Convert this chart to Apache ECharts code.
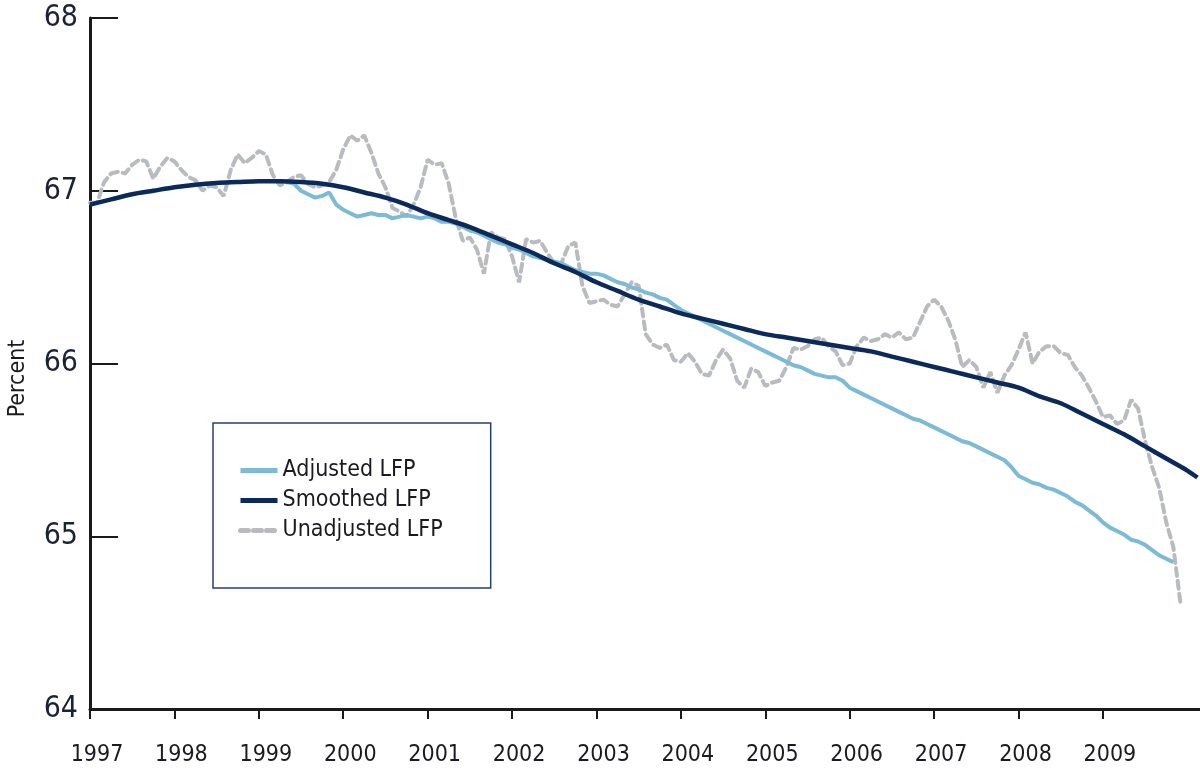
<!DOCTYPE html>
<html>
<head>
<meta charset="utf-8">
<script src="https://cdn.jsdelivr.net/npm/echarts@6/dist/echarts.min.js"></script>
<style>
html,body{margin:0;padding:0;background:#fff;}
#c{width:1200px;height:776px;}
</style>
</head>
<body>
<div id="c"></div>
<script>
// x tick labels (years)
const yearTicks = [1997,1998,1999,2000,2001,2002,2003,2004,2005,2006,2007,2008,2009];
// monthly series start Jan 1997
const startYear = 1997;
const unadjusted = [
66.93,66.93,67.05,67.10,67.11,67.10,67.15,67.18,67.17,67.07,67.14,67.19,
67.17,67.12,67.08,67.06,67.00,67.03,67.02,66.97,67.12,67.21,67.16,67.19,
67.23,67.21,67.09,67.03,67.05,67.08,67.09,67.04,67.02,67.03,67.05,67.12,
67.24,67.32,67.29,67.32,67.22,67.10,67.02,66.90,66.88,66.85,66.92,67.02,
67.18,67.15,67.16,67.04,66.84,66.71,66.73,66.66,66.52,66.76,66.73,66.72,
66.62,66.47,66.72,66.70,66.71,66.64,66.58,66.58,66.68,66.70,66.45,66.35,
66.36,66.37,66.34,66.33,66.40,66.47,66.45,66.17,66.11,66.09,66.11,66.02,
66.01,66.06,66.01,65.94,65.93,66.02,66.08,66.03,65.90,65.86,65.97,65.95,
65.87,65.89,65.90,65.98,66.09,66.08,66.10,66.14,66.15,66.10,66.07,65.99,
66.00,66.10,66.15,66.13,66.14,66.17,66.15,66.18,66.14,66.15,66.24,66.33,
66.37,66.33,66.25,66.14,65.98,66.02,65.98,65.86,65.95,65.83,65.93,65.99,
66.08,66.18,66.00,66.07,66.10,66.10,66.06,66.05,65.98,65.93,65.86,65.78,
65.69,65.70,65.65,65.67,65.79,65.74,65.55,65.40,65.28,65.08,64.94,64.62
];
// adjusted series starts at month index 28 (May 1999)
const adjustedStartIndex = 28;
const adjusted = [
67.05,67.04,67.00,66.98,66.96,66.97,66.99,66.92,66.89,66.87,66.85,66.86,
66.87,66.86,66.86,66.84,66.85,66.86,66.85,66.84,66.85,66.84,66.82,
66.82,66.81,66.79,66.77,66.76,66.74,66.72,66.70,66.69,
66.67,66.66,66.64,66.62,66.61,66.60,66.59,66.58,66.56,66.54,66.53,66.52,
66.52,66.51,66.49,66.47,66.46,66.44,66.43,66.41,66.40,66.38,66.37,66.34,
66.31,66.29,66.27,66.25,66.23,66.21,66.19,66.17,66.15,66.13,66.11,66.09,
66.07,66.05,66.03,66.01,65.99,65.98,65.96,65.94,65.93,65.92,65.92,65.90,
65.86,65.84,65.82,65.80,65.78,65.76,65.74,65.72,65.70,65.68,65.67,65.65,
65.63,65.61,65.59,65.57,65.55,65.54,65.52,65.50,65.48,65.46,65.44,65.40,
65.35,65.33,65.31,65.30,65.28,65.27,65.25,65.23,65.20,65.18,65.15,65.12,
65.08,65.05,65.03,65.01,64.98,64.97,64.95,64.92,64.89,64.87,64.85
];
// smoothed series (quarterly readings)
const smoothedX = [
1997.0,1997.25,1997.5,1997.75,1998.0,1998.25,1998.5,1998.75,1999.0,1999.25,1999.5,1999.75,
2000.0,2000.25,2000.5,2000.75,2001.0,2001.25,2001.5,2001.75,2002.0,2002.25,2002.5,2002.75,
2003.0,2003.25,2003.5,2003.75,2004.0,2004.25,2004.5,2004.75,2005.0,2005.25,2005.5,2005.75,
2006.0,2006.25,2006.5,2006.75,2007.0,2007.25,2007.5,2007.75,2008.0,2008.25,2008.5,2008.75,
2009.0,2009.25,2009.5,2009.75,2010.0,2010.12
];
const smoothedY = [
66.92,66.95,66.98,67.00,67.02,67.035,67.045,67.05,67.055,67.055,67.05,67.04,
67.02,66.99,66.96,66.92,66.87,66.83,66.79,66.74,66.69,66.64,66.58,66.53,
66.47,66.42,66.37,66.33,66.29,66.26,66.23,66.20,66.17,66.15,66.13,66.11,
66.09,66.07,66.04,66.01,65.98,65.95,65.92,65.89,65.86,65.81,65.77,65.71,
65.65,65.59,65.52,65.45,65.38,65.34
];

const toMonthly = (arr, start) => arr.map((v, i) => [startYear + (start + i) / 12, v]);
const FONT = '"DejaVu Sans Condensed","Liberation Sans Narrow",sans-serif';

const chart = echarts.init(document.getElementById('c'), null, {renderer: 'canvas'});
chart.setOption({
  animation: false,
  backgroundColor: '#fff',
  grid: {left: 90, right: 0, top: 18, bottom: 67, containLabel: false, outerBoundsMode: 'none'},
  legend: {
    orient: 'vertical',
    left: 213, top: 423,
    padding: [36, 48, 46, 25],
    itemGap: 7,
    itemWidth: 37, itemHeight: 14,
    borderColor: '#23426a', borderWidth: 1.5,
    itemStyle: {opacity: 0},
    lineStyle: {width: 5},
    textStyle: {fontFamily: FONT, fontSize: 23, color: '#1a1a22'},
    data: ['Adjusted LFP', 'Smoothed LFP', 'Unadjusted LFP']
  },
  xAxis: {
    type: 'value',
    min: 1997, max: 2010.15, interval: 1,
    splitLine: {show: false},
    axisLine: {show: true, onZero: false, lineStyle: {color: '#1a1a1a', width: 3}},
    axisTick: {show: true, inside: false, length: 10, lineStyle: {color: '#1a1a1a', width: 2}, customValues: yearTicks},
    axisLabel: {
      customValues: yearTicks, margin: 35, padding: [0, 0, 0, 14],
      fontFamily: FONT, fontSize: 23, color: '#1a1a22',
      formatter: v => String(Math.round(v))
    }
  },
  yAxis: {
    type: 'value',
    min: 64, max: 68, interval: 1,
    name: 'Percent', nameLocation: 'middle', nameGap: 60, nameRotate: 90,
    nameTextStyle: {fontFamily: FONT, fontSize: 23, color: '#1a1a22', padding: [0, 0, 0, -30]},
    splitLine: {show: false},
    axisLine: {show: true, lineStyle: {color: '#1a1a1a', width: 3}},
    axisTick: {show: true, inside: true, length: 28, lineStyle: {color: '#1a1a1a', width: 2}},
    axisLabel: {margin: 12, fontFamily: FONT, fontSize: 30, color: '#1c2236', formatter: v => String(v)}
  },
  series: [
    {
      name: 'Unadjusted LFP', type: 'line', showSymbol: false, symbol: 'none',
      data: toMonthly(unadjusted, 0),
      lineStyle: {color: '#b8bbbf', width: 4, type: [8, 5], cap: 'round'},
      itemStyle: {color: '#b8bbbf'}, z: 2
    },
    {
      name: 'Adjusted LFP', type: 'line', showSymbol: false, symbol: 'none',
      data: toMonthly(adjusted, adjustedStartIndex),
      lineStyle: {color: '#7cbad6', width: 4},
      itemStyle: {color: '#7cbad6'}, z: 3
    },
    {
      name: 'Smoothed LFP', type: 'line', showSymbol: false, symbol: 'none', smooth: 0.3,
      data: smoothedX.map((x, i) => [x, smoothedY[i]]),
      lineStyle: {color: '#0b2a5a', width: 4.5},
      itemStyle: {color: '#0b2a5a'}, z: 4
    }
  ]
});
</script>
</body>
</html>
